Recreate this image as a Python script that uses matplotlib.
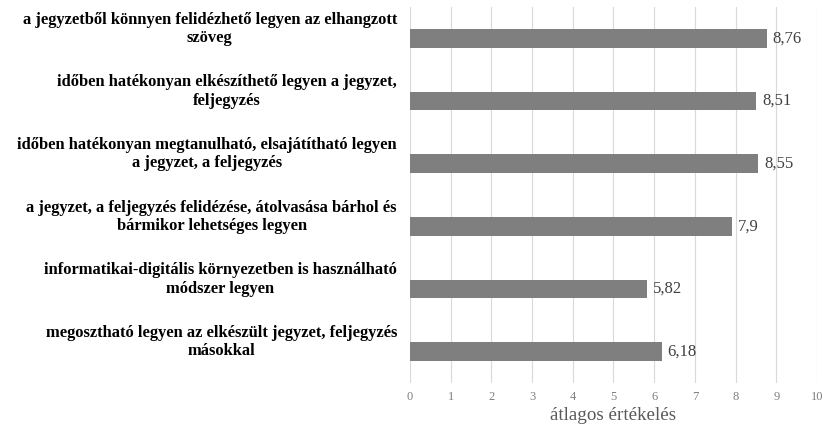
import matplotlib
matplotlib.use('Agg')
import matplotlib.pyplot as plt

labels = [
    'a jegyzetből könnyen felidézhető legyen az elhangzott\nszöveg',
    'időben hatékonyan elkészíthető legyen a jegyzet,\nfeljegyzés',
    'időben hatékonyan megtanulható, elsajátítható legyen\na jegyzet, a feljegyzés',
    'a jegyzet, a feljegyzés felidézése, átolvasása bárhol és\nbármikor lehetséges legyen',
    'informatikai-digitális környezetben is használható\nmódszer legyen',
    'megosztható legyen az elkészült jegyzet, feljegyzés\nmásokkal',
]
values = [8.76, 8.51, 8.55, 7.9, 5.82, 6.18]
value_text = ['8,76', '8,51', '8,55', '7,9', '5,82', '6,18']
xticks = list(range(0, 11))

plt.rcParams['font.family'] = ['Liberation Serif', 'DejaVu Serif']

fig = plt.figure(figsize=(8.29, 4.33), dpi=100)
ax = fig.add_axes([410 / 829, 1 - 383 / 433, 407 / 829, 376 / 433])

pos = list(range(len(values)))
ax.barh(pos, values, height=0.3, color='#7f7f7f', zorder=3)
ax.set_ylim(len(values) - 0.5, -0.5)
ax.set_xlim(0, 10)
ax.set_xticks(xticks)
ax.set_xticklabels([str(t) for t in xticks], fontsize=9, color='#7f7f7f')
ax.tick_params(axis='x', length=0, pad=6)
ax.set_yticks([])
ax.grid(axis='x', color='#d9d9d9', linewidth=0.8, zorder=0)
for s in ax.spines.values():
    s.set_visible(False)

for p, v, t in zip(pos, values, value_text):
    ax.text(v + 0.15, p, t, va='center', ha='left', fontsize=12, color='#404040')

# category labels sit up-left of their bars, centred lines
for p, lab in zip(pos, labels):
    ax.annotate(lab, xy=(0, p), xycoords='data', xytext=(-13, 9.5),
                textcoords='offset pixels', ha='right', va='center',
                multialignment='center', fontsize=11.9, fontweight='bold',
                linespacing=1.22, color='black')

ax.set_xlabel('átlagos értékelés', fontsize=13.7, color='#595959', labelpad=3)

fig.savefig('out.png', dpi=100)
